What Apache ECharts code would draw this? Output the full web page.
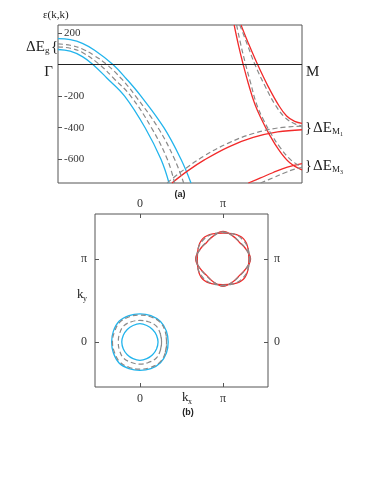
<!DOCTYPE html>
<html>
<head>
<meta charset="utf-8">
<script src="https://cdn.jsdelivr.net/npm/echarts@6/dist/echarts.min.js"></script>
<style>html,body{margin:0;padding:0;background:#fff}#main{width:374px;height:484px}</style>
</head>
<body>
<div id="main"></div>
<script>
// (a) bands along (k,k): x = 0 at Γ, 1 at M ; y = energy
var blueLow  = [[0,95],[0.05,84],[0.1,50],[0.143,0],[0.2,-85],[0.273,-200],[0.357,-400],[0.422,-600],[0.455,-750]];
var blueUp   = [[0,164],[0.05,157],[0.1,134],[0.15,90],[0.225,0],[0.28,-90],[0.34,-200],[0.434,-400],[0.504,-600],[0.545,-750]];
var grayG1   = [[0,112],[0.05,103],[0.1,76],[0.17,0],[0.23,-90],[0.298,-200],[0.383,-400],[0.448,-600],[0.478,-750]];
var grayG2   = [[0,130],[0.05,122],[0.1,98],[0.15,55],[0.2,0],[0.26,-90],[0.318,-200],[0.41,-400],[0.478,-600],[0.515,-750]];
var redA     = [[0.722,250],[0.74,120],[0.759,0],[0.78,-120],[0.807,-252],[0.835,-350],[0.862,-431],[0.903,-536],[0.95,-622],[1,-667]];
var redB     = [[0.75,250],[0.78,135],[0.818,0],[0.86,-135],[0.902,-252],[0.937,-326],[0.97,-360],[1,-372]];
var redC     = [[0.467,-750],[0.53,-675],[0.6,-604],[0.7,-521],[0.8,-462],[0.9,-427],[1,-413]];
var redD     = [[0.78,-750],[0.83,-718],[0.88,-685],[0.94,-650],[1,-628]];
var grayA    = [[0.732,250],[0.75,120],[0.769,0],[0.79,-120],[0.814,-252],[0.842,-350],[0.87,-430],[0.91,-525],[0.955,-605],[1,-650]];
var grayB    = [[0.745,250],[0.775,130],[0.807,0],[0.848,-135],[0.889,-252],[0.93,-335],[0.97,-375],[1,-390]];
var grayC    = [[0.447,-750],[0.5,-684],[0.6,-578],[0.7,-496],[0.8,-437],[0.9,-402],[1,-390]];
var grayD    = [[0.83,-750],[0.88,-718],[0.93,-685],[0.97,-662],[1,-652]];
var yTicks   = [200, 0, -200, -400, -600];
var yLabels  = [200, -200, -400, -600];

// (b) Fermi surface contours, radius (units of π) read every 22.5°
var angles   = [0,22.5,45,67.5,90,112.5,135,157.5,180,202.5,225,247.5,270,292.5,315,337.5];
var gOutBlue = [0.34,0.345,0.35,0.345,0.34,0.345,0.355,0.345,0.34,0.345,0.355,0.345,0.34,0.345,0.35,0.345];
var gInBlue  = [0.218,0.216,0.215,0.216,0.222,0.216,0.215,0.216,0.218,0.216,0.215,0.216,0.22,0.216,0.215,0.216];
var gOutGray = [0.32,0.33,0.34,0.33,0.325,0.33,0.34,0.33,0.33,0.33,0.34,0.33,0.325,0.33,0.34,0.33];
var gInGray  = [0.26,0.265,0.275,0.265,0.26,0.265,0.275,0.265,0.26,0.265,0.275,0.265,0.265,0.265,0.275,0.265];
var mSqRed   = [0.31,0.325,0.345,0.325,0.31,0.325,0.345,0.325,0.31,0.325,0.345,0.325,0.31,0.325,0.345,0.325];
var mDiaRed  = [0.33,0.30,0.28,0.30,0.33,0.30,0.28,0.30,0.33,0.30,0.28,0.30,0.33,0.30,0.28,0.30];
var mSqGray  = [0.315,0.325,0.33,0.325,0.315,0.325,0.33,0.325,0.315,0.325,0.33,0.325,0.315,0.325,0.33,0.325];
var mDiaGray = [0.325,0.30,0.285,0.30,0.325,0.30,0.285,0.30,0.325,0.30,0.285,0.30,0.325,0.30,0.285,0.30];
var kTicks   = [0, 1];

var BLUE = '#22b4ec', RED = '#f22a2a', GRAY = '#8a8a8a';
var SERIF = "'Liberation Serif','DejaVu Serif',serif";

function ring(cx, cy, radii) {
    var pts = [];
    for (var i = -1; i <= radii.length + 1; i++) {
        var k = (i + radii.length) % radii.length;
        var t = angles[k] * Math.PI / 180;
        pts.push([cx + radii[k] * Math.cos(t), cy + radii[k] * Math.sin(t)]);
    }
    return pts;
}

function band(data, color, dashed, xi, yi) {
    return {
        type: 'line', data: data, xAxisIndex: xi, yAxisIndex: yi,
        smooth: 0.4, showSymbol: false, silent: true, animation: false,
        lineStyle: {color: color, width: dashed ? 1.2 : 1.3, type: dashed ? [5, 3] : 'solid'}
    };
}

var myChart = echarts.init(document.getElementById('main'));
var series = [
    band(blueLow, BLUE, false, 0, 0), band(blueUp, BLUE, false, 0, 0),
    band(redA, RED, false, 0, 0), band(redB, RED, false, 0, 0),
    band(redC, RED, false, 0, 0), band(redD, RED, false, 0, 0),
    band(grayG1, GRAY, true, 0, 0), band(grayG2, GRAY, true, 0, 0),
    band(grayA, GRAY, true, 0, 0), band(grayB, GRAY, true, 0, 0),
    band(grayC, GRAY, true, 0, 0), band(grayD, GRAY, true, 0, 0),
    band(ring(0, 0, gOutBlue), BLUE, false, 1, 1), band(ring(0, 0, gInBlue), BLUE, false, 1, 1),
    band(ring(1, 1, mSqRed), RED, false, 1, 1), band(ring(1, 1, mDiaRed), RED, false, 1, 1),
    band(ring(0, 0, gOutGray), GRAY, true, 1, 1), band(ring(0, 0, gInGray), GRAY, true, 1, 1),
    band(ring(1, 1, mSqGray), GRAY, true, 1, 1), band(ring(1, 1, mDiaGray), GRAY, true, 1, 1)
];
// zero energy line
series[0].markLine = {
    silent: true, symbol: 'none', label: {show: false}, animation: false,
    lineStyle: {color: '#222', width: 1, type: 'solid'},
    data: [{yAxis: 0}]
};

var kLabel = function (v) { return v === 0 ? '0' : 'π'; };
function kAxis(pos, gi, margin) {
    return {
        type: 'value', gridIndex: gi, position: pos, min: -0.54, max: 1.54,
        axisLine: {show: false, onZero: false}, splitLine: {show: false},
        axisTick: {show: true, inside: true, length: 4, customValues: kTicks, lineStyle: {color: '#555'}},
        axisLabel: {customValues: kTicks, formatter: kLabel, margin: margin,
            fontFamily: SERIF, fontSize: 12, color: '#333'}
    };
}

function txt(x, y, s, size, align, extra) {
    var st = {text: s, fontFamily: SERIF, fontSize: size, fill: '#222',
        textAlign: align || 'left', textVerticalAlign: 'middle'};
    if (extra) { for (var k in extra) st[k] = extra[k]; }
    return {type: 'text', x: x, y: y, style: st, silent: true};
}

myChart.setOption({
    animation: false,
    grid: [
        {left: 58, top: 25, width: 244, height: 158, show: true, borderColor: '#555', borderWidth: 1},
        {left: 95, top: 214, width: 173, height: 173, show: true, borderColor: '#555', borderWidth: 1}
    ],
    xAxis: [
        {type: 'value', gridIndex: 0, min: 0, max: 1, show: true,
            axisLine: {show: false, onZero: false}, axisTick: {show: false}, axisLabel: {show: false}, splitLine: {show: false}},
        kAxis('bottom', 1, 6),
        kAxis('top', 1, 4)
    ],
    yAxis: [
        {type: 'value', gridIndex: 0, min: -750, max: 250,
            axisLine: {show: false, onZero: false}, splitLine: {show: false},
            axisTick: {show: true, inside: true, length: 4, customValues: yTicks, lineStyle: {color: '#555'}},
            axisLabel: {inside: true, margin: 6, customValues: yLabels,
                fontFamily: SERIF, fontSize: 11, color: '#333'}},
        kAxis('left', 1, 8),
        kAxis('right', 1, 6)
    ],
    series: series,
    graphic: [
        txt(43, 15, 'ε(k,k)', 11),
        txt(26, 47, 'ΔE', 15), txt(45, 51, 'g', 9), txt(51, 47, '{', 15),
        txt(53, 72, 'Γ', 15, 'right'),
        txt(306, 72, 'M', 15),
        txt(305, 128, '}', 14), txt(313, 128, 'ΔE', 15), txt(332, 132, 'M', 9), txt(340, 134, '1', 6),
        txt(305, 166, '}', 14), txt(313, 166, 'ΔE', 15), txt(332, 170, 'M', 9), txt(340, 172, '3', 6),
        txt(180, 195, '(a)', 9, 'center', {fontFamily: 'Liberation Sans, Arial, sans-serif', fontWeight: 'bold'}),
        txt(182, 398, 'k', 13), txt(188, 402, 'x', 8),
        txt(77, 295, 'k', 13), txt(83, 299, 'y', 8),
        txt(188, 413, '(b)', 9, 'center', {fontFamily: 'Liberation Sans, Arial, sans-serif', fontWeight: 'bold'})
    ]
});
</script>
</body>
</html>
